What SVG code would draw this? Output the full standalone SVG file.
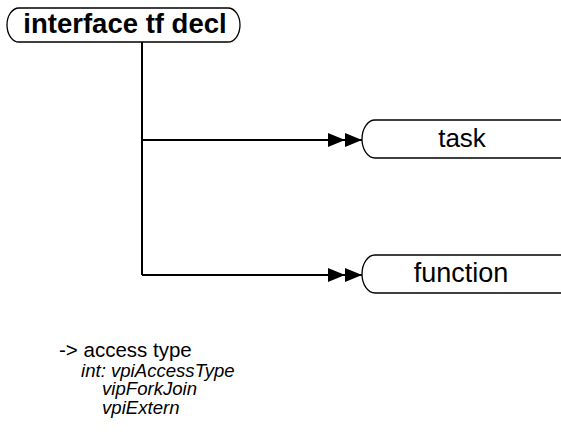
<svg xmlns="http://www.w3.org/2000/svg" width="561" height="447" viewBox="0 0 561 447">
<defs>
<style>
.box{fill:#fff;stroke:#000;stroke-width:1.3}
.lbl{font-family:"Liberation Sans",Arial,sans-serif;fill:#000;text-anchor:middle}
.edge{stroke:#000;stroke-width:2;fill:none}
.note{font-family:"Liberation Sans",Arial,sans-serif;fill:#000}
.it{font-size:18.6px;font-style:italic}
</style>
<marker id="dbl" markerWidth="36" markerHeight="16" refX="35" refY="8" orient="auto" markerUnits="userSpaceOnUse">
<path d="M1,1 L18,8 L1,15 Z M18,1 L35,8 L18,15 Z" fill="#000"/>
</marker>
</defs>
<g id="connectors">
<path class="edge" d="M142,42 V275"/>
<path class="edge" d="M142,140 H362" marker-end="url(#dbl)"/>
<path class="edge" d="M142,275 H362" marker-end="url(#dbl)"/>
</g>
<g id="interface-tf-decl">
<rect class="box" x="7" y="8" width="233" height="34" rx="12" ry="17"/>
<text class="lbl" x="125" y="33" font-size="27.5" font-weight="bold">interface tf decl</text>
</g>
<g id="task">
<rect class="box" x="362" y="120" width="230" height="38" rx="13" ry="19"/>
<text class="lbl" x="462" y="147" font-size="26">task</text>
</g>
<g id="function">
<rect class="box" x="362" y="255" width="230" height="38" rx="13" ry="19"/>
<text class="lbl" x="461" y="282" font-size="27">function</text>
</g>
<g id="notes">
<text class="note" x="59" y="357" font-size="20.5">-&gt; access type</text>
<text class="note it" x="81" y="377">int: vpiAccessType</text>
<text class="note it" x="102" y="395">vipForkJoin</text>
<text class="note it" x="102" y="414">vpiExtern</text>
</g>
</svg>
